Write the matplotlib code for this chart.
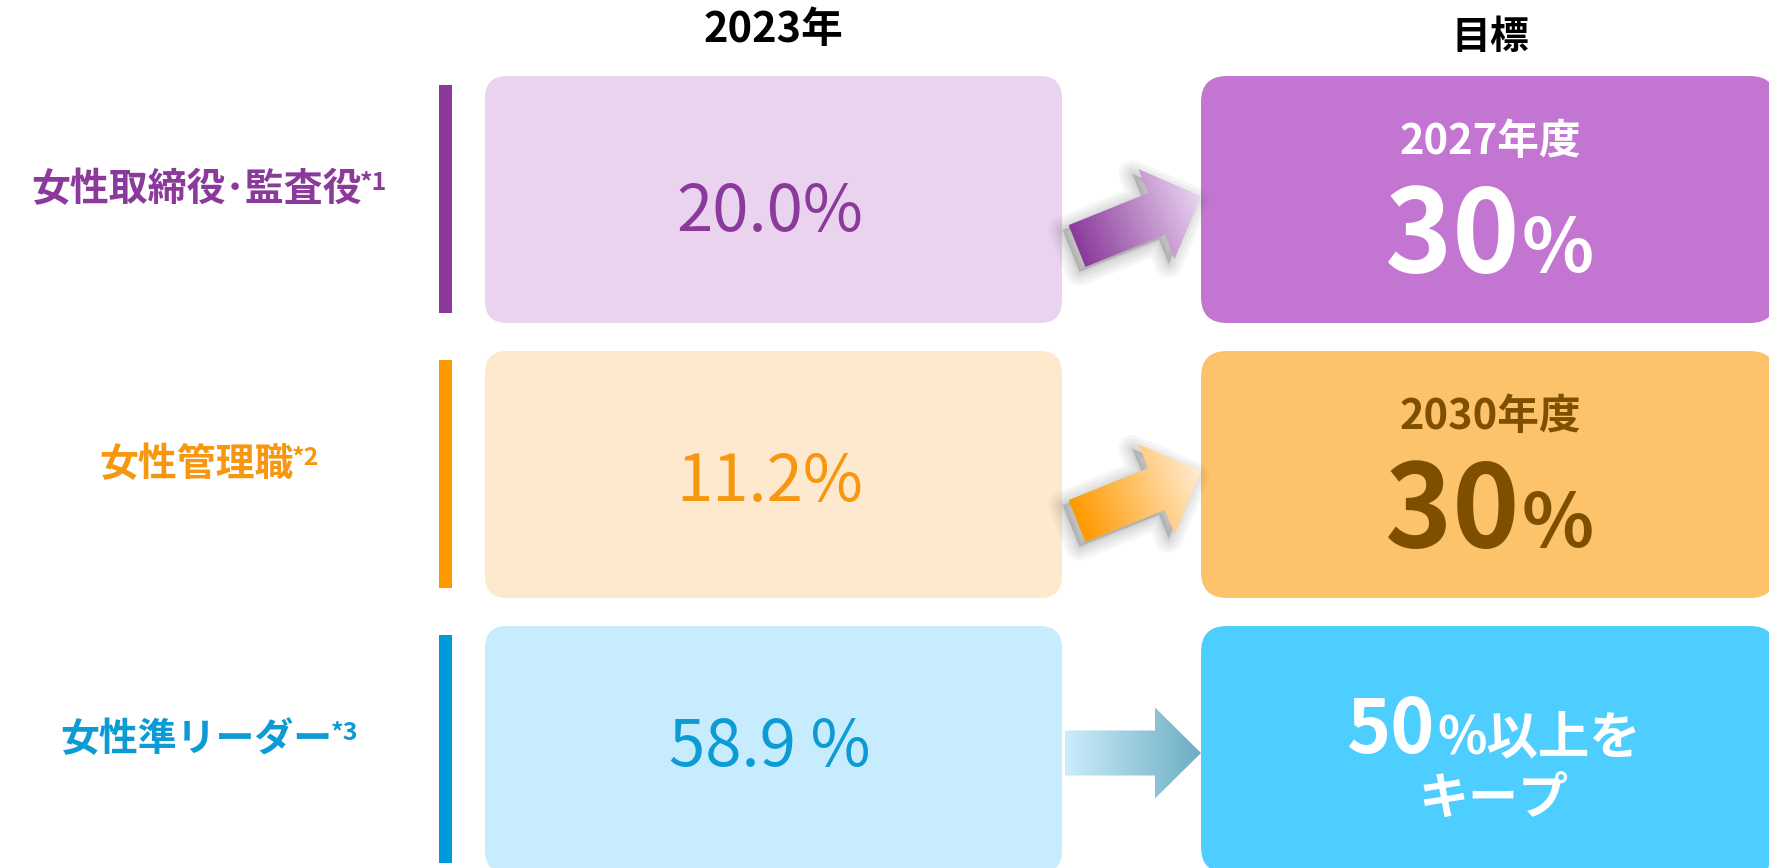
import numpy as np
import matplotlib
matplotlib.use("Agg")
import matplotlib.pyplot as plt
from matplotlib.patches import FancyBboxPatch, Polygon, Rectangle
from matplotlib.colors import to_rgb

plt.rcParams['font.family'] = ['Noto Sans CJK JP', 'DejaVu Sans']

# --- content ---
categories = ["女性取締役･監査役", "女性管理職", "女性準リーダー"]
notes = ["*1", "*2", "*3"]
col_headers = ["2023年", "目標"]
current_values = ["20.0%", "11.2%", "58.9 %"]
target_years = ["2027年度", "2030年度", ""]
target_numbers = ["30", "30", "50"]
target_suffix = ["%", "%", "%以上を"]
target_extra = ["", "", "キープ"]

# --- styles ---
label_colors = ['#8B3A9B', '#F7970F', '#0C9BD4']
bar_colors = ['#8B3A9B', '#FF9900', '#0099D9']
light_boxes = ['#E9D3EF', '#FEE9CE', '#C6ECFD']
target_boxes = ['#C376D1', '#FDC36A', '#4DCEFF']
target_text = ['white', '#7F4F00', 'white']
arrow_grad = [('#8B3A9B', '#EBD5F1'), ('#FF9900', '#FFEDD2'), ('#CBEDFB', '#6DADC3')]

W, H = 1769, 868
row_top = [76, 351, 626]
box_h = 247
value_dy = [137, 132, 122]


def arrow_points(tail, tip, sw, hw, hl):
    tail = np.asarray(tail, float); tip = np.asarray(tip, float)
    u = (tip - tail) / np.linalg.norm(tip - tail)
    n = np.array([-u[1], u[0]])
    base = tip - u * hl
    return np.array([tail + n*sw/2, base + n*sw/2, base + n*hw/2, tip,
                     base - n*hw/2, base - n*sw/2, tail - n*sw/2])


def gradient_arrow(ax, tail, tip, sw, hw, hl, c0, c1, shadow=True):
    pts = arrow_points(tail, tip, sw, hw, hl)
    if shadow:
        # soft drop shadow: stacked faint outlines
        for lw in [20, 15, 10, 6, 3]:
            ax.add_patch(Polygon(pts + np.array([-6, 5]), closed=True, facecolor='#333333',
                                 edgecolor='#333333', lw=lw, alpha=0.045, joinstyle='round', zorder=2))
    poly = Polygon(pts, closed=True, facecolor='none', edgecolor='none', zorder=3)
    ax.add_patch(poly)
    x0, y0 = pts.min(axis=0); x1, y1 = pts.max(axis=0)
    X, Y = np.meshgrid(np.linspace(x0, x1, 200), np.linspace(y0, y1, 200))
    d = np.asarray(tip, float) - np.asarray(tail, float)
    t = ((X - tail[0]) * d[0] + (Y - tail[1]) * d[1]) / (d @ d)
    t = np.clip(t, 0, 1)[..., None]
    img = (1 - t) * np.array(to_rgb(c0)) + t * np.array(to_rgb(c1))
    im = ax.imshow(img, extent=(x0, x1, y1, y0), origin='upper', aspect='auto',
                   zorder=3, interpolation='bilinear')
    im.set_clip_path(poly)


fig = plt.figure(figsize=(W/100, H/100), dpi=100)
ax = fig.add_axes([0, 0, 1, 1])
ax.axis('off')

ax.text(773, 30, col_headers[0], ha='center', va='center', fontsize=30, fontweight='bold', color='black')
ax.text(1490, 37, col_headers[1], ha='center', va='center', fontsize=28, fontweight='bold', color='black')

label_texts = []
for i, top in enumerate(row_top):
    # side bar
    ax.add_patch(Rectangle((439, top + 9), 13, box_h - 19, color=bar_colors[i], lw=0))
    # current box
    ax.add_patch(FancyBboxPatch((485, top), 577, box_h, boxstyle="round,pad=0,rounding_size=22",
                                fc=light_boxes[i], ec='none'))
    ax.text(770, top + value_dy[i], current_values[i], ha='center', va='center',
            fontsize=47, fontweight='normal', color=label_colors[i])
    # target box
    ax.add_patch(FancyBboxPatch((1201, top), 575, box_h, boxstyle="round,pad=0,rounding_size=26",
                                fc=target_boxes[i], ec='none'))
    # labels (main + superscript note, placed after measuring)
    m = ax.text(0, top + 114, categories[i], ha='left', va='center', fontsize=28,
                fontweight='bold', color=label_colors[i])
    s = ax.text(0, top + 107, notes[i], ha='left', va='center', fontsize=18,
                fontweight='bold', color=label_colors[i])
    label_texts.append((m, s))

    # arrows
    if i < 2:
        gradient_arrow(ax, (1077, top + 170), (1201, top + 120), 45, 97, 48, *arrow_grad[i])
    else:
        gradient_arrow(ax, (1065, top + 127), (1201, top + 127), 45, 91, 46, *arrow_grad[i], shadow=False)

    # target content
    tc = target_text[i]
    if target_years[i]:
        ax.text(1490, top + 66, target_years[i], ha='center', va='center', fontsize=30,
                fontweight='bold', color=tc)
        ax.text(1520, top + 196, target_numbers[i], ha='right', va='baseline', fontsize=82,
                fontweight='bold', color=tc)
        ax.text(1522, top + 196, target_suffix[i], ha='left', va='baseline', fontsize=54,
                fontweight='bold', color=tc)
    else:
        ax.text(1434, top + 127, target_numbers[i], ha='right', va='baseline', fontsize=54,
                fontweight='bold', color=tc)
        ax.text(1437, top + 127, target_suffix[i], ha='left', va='baseline', fontsize=37,
                fontweight='bold', color=tc)
        ax.text(1493, top + 173, target_extra[i], ha='center', va='center', fontsize=36,
                fontweight='bold', color=tc)

ax.set_xlim(0, W)
ax.set_ylim(H, 0)

# center each label together with its note
fig.canvas.draw()
r = fig.canvas.get_renderer()
for m, s in label_texts:
    wm = m.get_window_extent(r).width
    ws = s.get_window_extent(r).width
    left = 210 - (wm + ws) / 2
    m.set_x(left)
    s.set_x(left + wm - 2)

fig.savefig("out.png", dpi=100)
